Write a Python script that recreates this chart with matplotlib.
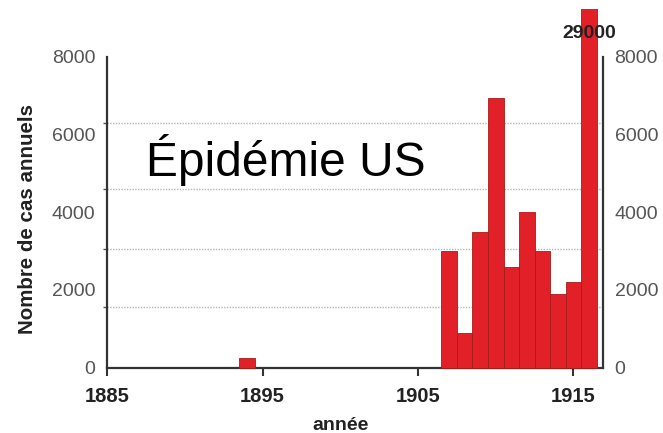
import matplotlib
matplotlib.use("Agg")
import matplotlib.pyplot as plt
from matplotlib.patches import Rectangle

plt.rcParams['font.family'] = ['Liberation Sans', 'DejaVu Sans']

# annual cases (US epidemic)
years = [1894, 1907, 1908, 1909, 1910, 1911, 1912, 1913, 1914, 1915, 1916]
cases = [250, 3000, 900, 3500, 6950, 2600, 4000, 3000, 1900, 2200, 29000]

xticks = [1885, 1895, 1905, 1915]
yticks = [0, 2000, 4000, 6000, 8000]
grid_levels = [1550, 3050, 4600, 6300, 8000]

fig = plt.figure(figsize=(6.63, 4.33), dpi=100)
ax = fig.add_axes([0.1614, 0.1508, 0.7477, 0.7182])

bars = ax.bar(years, cases, width=1.0, color='#e12127', edgecolor='#a81a1a',
              linewidth=0.6, zorder=3)
# tall bar runs past the top of the axis, cut just under the top of the image
clip = Rectangle((1880, -500), 50, 9730, transform=ax.transData)
for b in bars:
    b.set_clip_path(clip)

ax.set_xlim(1885, 1916.88)
ax.set_ylim(0, 8000)

ax.set_xticks(xticks)
ax.set_xticklabels([str(x) for x in xticks], fontsize=14.5, fontweight='bold',
                   color='#222222')
ax.tick_params(axis='x', direction='out', length=6, width=1.5, color='#333333',
               pad=8)

ax.set_yticks(yticks)
ax.set_yticklabels([str(y) for y in yticks], fontsize=14, color='#555555')
ax.set_yticks(grid_levels, minor=True)
ax.tick_params(axis='y', which='major', length=0, pad=8.5, labelright=True)
ax.tick_params(axis='y', which='minor', length=3, width=1, color='#555555',
               direction='out')
ax.grid(axis='y', which='minor', linestyle=(0, (1, 1)), color='#b5b5b5',
        linewidth=1, zorder=0)

for side in ['left', 'bottom', 'right']:
    ax.spines[side].set_color('#333333')
    ax.spines[side].set_linewidth(1.6)
ax.spines['top'].set_visible(False)

ax.set_ylabel("Nombre de cas annuels", fontsize=14.8, fontweight='bold',
              color='#222222')
ax.yaxis.set_label_coords(-0.141, 0.478)
ax.set_xlabel("année", fontsize=14, fontweight='bold', color='#222222')
ax.xaxis.set_label_coords(0.472, -0.158)

ax.annotate(str(cases[-1]), xy=(years[-1], 8000), xytext=(0, 17),
            textcoords='offset points', ha='center', va='center',
            fontsize=14, fontweight='bold', color='#222222', zorder=5,
            annotation_clip=False)

ax.text(0.079, 0.616, "Épidémie US", transform=ax.transAxes, fontsize=34.5,
        color='black', ha='left', va='baseline', zorder=4)

fig.savefig("out.png", dpi=100)
